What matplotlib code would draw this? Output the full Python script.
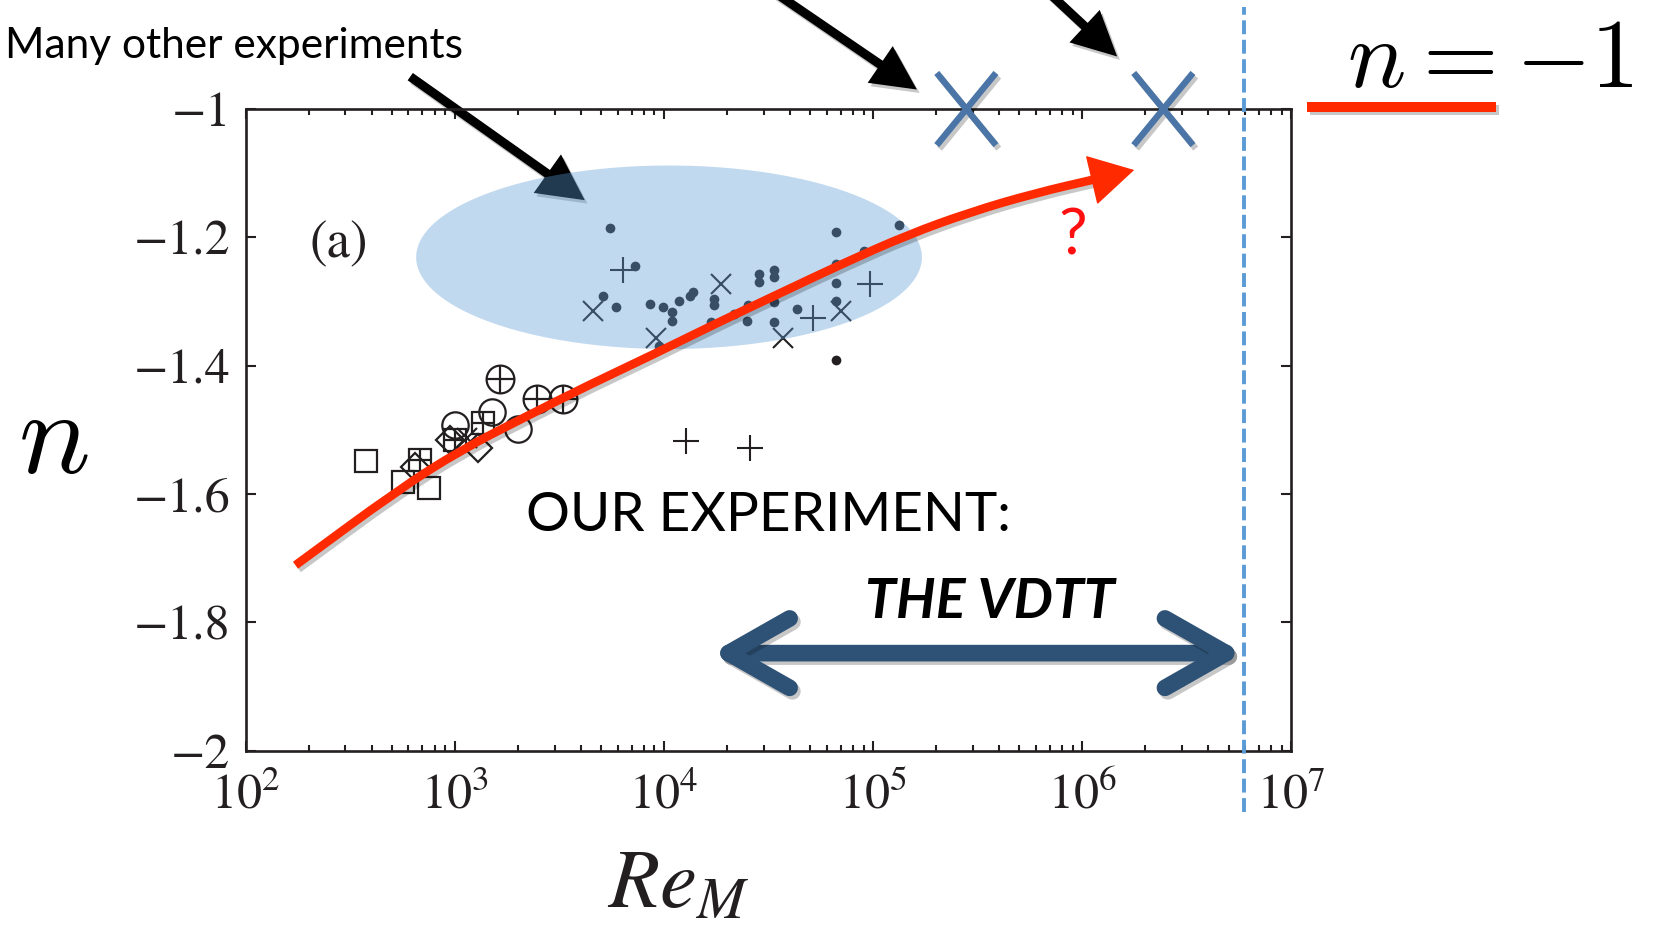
import numpy as np
import matplotlib
matplotlib.use("Agg")
import matplotlib.pyplot as plt
import matplotlib.patheffects as pe
from matplotlib.patches import FancyArrowPatch, PathPatch
from matplotlib.lines import Line2D
from matplotlib.path import Path
from matplotlib.ticker import NullFormatter

plt.rcParams['mathtext.fontset'] = 'stix'
plt.rcParams['lines.scale_dashes'] = False

# --- scaling exponent n versus magnetic Reynolds number Re_M ---
# small filled dots
dot_re = [5.5e3, 7.3e3, 5.1e3, 5.9e3, 8.6e3, 9.9e3, 1.09e4, 1.09e4, 1.18e4, 1.33e4,
          1.38e4, 1.73e4, 1.73e4, 1.68e4, 2.17e4, 2.53e4, 2.50e4, 2.86e4, 2.86e4,
          3.34e4, 3.34e4, 3.34e4, 3.34e4, 4.33e4, 6.67e4, 6.67e4, 6.67e4, 6.67e4,
          6.67e4, 9.06e4, 1.33e5, 9.5e3]
dot_n = [-1.186, -1.245, -1.292, -1.309, -1.304, -1.309, -1.317, -1.331, -1.299, -1.291,
         -1.285, -1.296, -1.306, -1.332, -1.320, -1.306, -1.331, -1.257, -1.270,
         -1.251, -1.262, -1.301, -1.332, -1.311, -1.191, -1.241, -1.271, -1.299,
         -1.391, -1.222, -1.181, -1.370]
# plus markers
plus_re = [6.4e3, 9.66e4, 5.18e4, 1.28e4, 2.59e4]
plus_n = [-1.251, -1.273, -1.325, -1.517, -1.528]
# cross markers
cross_re = [4.6e3, 1.88e4, 9.2e3, 3.72e4, 7.0e4, 1.14e3]
cross_n = [-1.315, -1.273, -1.357, -1.357, -1.315, -1.513]
# open squares
sq_re = [375, 564, 755]
sq_n = [-1.549, -1.581, -1.590]
# squares with a plus inside
sqp_re = [682, 1002, 1368]
sqp_n = [-1.547, -1.516, -1.490]
# open diamonds
dia_re = [646, 948, 1294]
dia_n = [-1.558, -1.516, -1.529]
# open circles
circ_re = [1002, 1500, 2014]
circ_n = [-1.493, -1.472, -1.498]
# circles with a plus inside
circp_re = [1644, 2460, 3281]
circp_n = [-1.421, -1.452, -1.452]

# trend curve (extrapolated towards n = -1)
trend_re = [173, 533, 1074, 2168, 4375, 8831, 1.778e4, 3.589e4, 7.244e4, 1.462e5,
            2.951e5, 5.957e5, 1.2e6, 1.77e6]
trend_n = [-1.711, -1.594, -1.531, -1.480, -1.430, -1.383, -1.334, -1.287, -1.240,
           -1.196, -1.160, -1.131, -1.108, -1.095]

# predicted n = -1 points
bigx_re = [2.79e5, 2.44e6]
bigx_n = [-1.0, -1.0]

# VDTT range and maximum Re_M
vdtt_lo, vdtt_hi, vdtt_n = 1.69e4, 5.86e6, -1.848
vdtt_max = 5.9e6

# highlighted region of other experiments (centre in log10 Re, n, half axes)
ell_logre, ell_n, ell_dlog, ell_dn = 4.024, -1.231, 1.209, 0.143

# pointer arrows (tail, head) in data coordinates
ptr_other = [(597, -0.947), (4285, -1.1445)]
ptr_x1 = [(2.55e4, -0.791), (1.66e5, -0.972)]
ptr_x2 = [(5.6e5, -0.791), (1.5e6, -0.921)]

INK = '#231f20'
RED = '#ff2a00'
XBLUE = '#4a75a6'
DARKBLUE = '#2e5276'
LIGHTBLUE = '#5b9bd5'

fig = plt.figure(figsize=(16.6, 9.36), dpi=100)
ax = fig.add_axes([0.148, 0.198, 0.630, 0.6855])
ax.set_xscale('log')
ax.set_xlim(1e2, 1e7)
ax.set_ylim(-2, -1)

shadow_line = [pe.SimpleLineShadow(offset=(2, -2.5), shadow_color='k', alpha=0.22), pe.Normal()]
shadow_patch = [pe.SimplePatchShadow(offset=(2, -2.5), shadow_rgbFace='k', alpha=0.22), pe.Normal()]

# data markers
mk = dict(ls='none', color=INK, zorder=2)
ax.plot(dot_re, dot_n, marker='o', ms=7, mew=0, **mk)
ax.plot(plus_re, plus_n, marker='+', ms=19, mew=1.5, **mk)
ax.plot(cross_re, cross_n, marker='x', ms=14, mew=1.5, **mk)
open_mk = dict(ls='none', mfc='none', mec=INK, mew=1.6, zorder=2)
ax.plot(sq_re, sq_n, marker='s', ms=16, **open_mk)
ax.plot(sqp_re, sqp_n, marker='s', ms=16, **open_mk)
ax.plot(sqp_re, sqp_n, marker='+', ms=16, **open_mk)
ax.plot(dia_re, dia_n, marker='D', ms=14, **open_mk)
ax.plot(circ_re, circ_n, marker='o', ms=19, **open_mk)
ax.plot(circp_re, circp_n, marker='o', ms=20, **open_mk)
ax.plot(circp_re, circp_n, marker='+', ms=20, **open_mk)

# arrow to the cloud of other experiments (sits under the translucent ellipse)
ax.add_patch(FancyArrowPatch(ptr_other[0], ptr_other[1],
                             arrowstyle='simple,head_length=33,head_width=34,tail_width=6.5',
                             mutation_scale=1, color='black', lw=0, clip_on=False, zorder=2.5,
                             path_effects=shadow_patch))

# translucent ellipse over the other experiments
t = np.linspace(0, 2 * np.pi, 300)
ax.fill(10 ** (ell_logre + ell_dlog * np.cos(t)), ell_n + ell_dn * np.sin(t),
        color=LIGHTBLUE, alpha=0.38, lw=0, zorder=3)

# trend curve: quadratic Bezier through the midpoints for a smooth stroke
pts = list(zip(trend_re[:-1], trend_n[:-1]))
verts = [pts[0]]
codes = [Path.MOVETO]
for k in range(1, len(pts) - 1):
    mid = ((pts[k - 1][0] * pts[k][0]) ** 0.5, (pts[k - 1][1] + pts[k][1]) / 2)
    nxt = ((pts[k][0] * pts[k + 1][0]) ** 0.5, (pts[k][1] + pts[k + 1][1]) / 2)
    if k == 1:
        verts.append(mid)
        codes.append(Path.LINETO)
    verts += [pts[k], nxt]
    codes += [Path.CURVE3, Path.CURVE3]
verts.append(pts[-1])
codes.append(Path.LINETO)
ax.add_patch(PathPatch(Path(verts, codes), fill=False, edgecolor=RED, lw=6.2, capstyle='butt',
                       zorder=4, path_effects=shadow_line))
ax.annotate('', xy=(trend_re[-1], trend_n[-1]), xytext=(trend_re[-2], trend_n[-2]),
            arrowprops=dict(arrowstyle='-|>,head_length=1.5,head_width=0.85', mutation_scale=20,
                            color=RED, lw=1, shrinkA=0, shrinkB=0), zorder=4)
ax.text(0.791, 0.774, '?', transform=ax.transAxes, color='#ff1010', family='Lato',
        size=46, ha='center', va='baseline', zorder=5)

# n = -1 predictions
xs = Path([(-0.41, -0.5), (0.41, 0.5), (-0.41, 0.5), (0.41, -0.5)],
          [Path.MOVETO, Path.LINETO, Path.MOVETO, Path.LINETO])
ax.plot(bigx_re, bigx_n, ls='none', marker=xs, ms=52, mew=4.6, mec=XBLUE, clip_on=False,
        zorder=6, path_effects=shadow_line)
for tail, head in (ptr_x1, ptr_x2):
    ax.add_patch(FancyArrowPatch(tail, head,
                                 arrowstyle='simple,head_length=32,head_width=32,tail_width=6.5',
                                 mutation_scale=1, color='black', lw=0, clip_on=False, zorder=6,
                                 path_effects=shadow_patch))

# maximum Re_M reached in the VDTT
ax.plot([vdtt_max, vdtt_max], [-0.095, 1.159], transform=ax.get_xaxis_transform(),
        color=LIGHTBLUE, lw=2.8, dashes=(10, 4), clip_on=False, zorder=5)

# VDTT range
ax.add_patch(FancyArrowPatch((vdtt_lo, vdtt_n), (vdtt_hi, vdtt_n),
                             arrowstyle='<->,head_length=44,head_width=25', mutation_scale=1,
                             color=DARKBLUE, lw=12, capstyle='round', joinstyle='round',
                             shrinkA=0, shrinkB=0, zorder=5, path_effects=shadow_line))

ax.text(0.268, 0.342, 'OUR EXPERIMENT:', transform=ax.transAxes, family='Lato',
        size=39.5, color='black', va='baseline')
ax.text(0.592, 0.2067, 'THE VDTT', transform=ax.transAxes, family='Lato', weight='bold',
        style='italic', size=40, color='black', va='baseline')
ax.text(0.0606, 0.788, '(a)', transform=ax.transAxes, family='STIXGeneral', size=38,
        color=INK, va='center')

# axes styling
for s in ax.spines.values():
    s.set_linewidth(1.9)
    s.set_color(INK)
ax.set_xticks([1e2, 1e3, 1e4, 1e5, 1e6, 1e7])
ax.set_xticklabels([r'$10^{%d}$' % k for k in range(2, 8)])
ax.xaxis.set_minor_formatter(NullFormatter())
ax.set_yticks([-2, -1.8, -1.6, -1.4, -1.2, -1])
ax.set_yticklabels(['\u22122', '\u22121.8', '\u22121.6', '\u22121.4', '\u22121.2', '\u22121'],
                   family='STIXGeneral')
ax.tick_params(which='both', direction='in', top=True, right=True, width=1.5, colors=INK,
               labelsize=36)
ax.tick_params(which='major', length=7)
ax.tick_params(which='minor', length=4)
ax.tick_params(axis='x', pad=14)
ax.tick_params(axis='y', pad=11)

ax.set_xlabel(r'$Re_M$', fontsize=60, color=INK)
ax.xaxis.label.set_va('baseline')
ax.xaxis.set_label_coords(0.413, -0.245)
ax.set_ylabel(r'$n$', fontsize=86, rotation=0, math_fontfamily='cm', color='black')
ax.yaxis.label.set_va('center')
ax.yaxis.label.set_ha('center')
ax.yaxis.set_label_coords(-0.184, 0.484)

# figure-level annotations
fig.text(463 / 1660, 1 - 58 / 936, 'Many other experiments', family='Lato', size=30.6,
         ha='right', va='baseline', color='black')
fig.text(1347 / 1660, 1 - 87 / 936, r'$n = -1$', math_fontfamily='cm', size=70,
         ha='left', va='baseline', color='black')
fig.add_artist(Line2D([1307 / 1660, 1496 / 1660], [1 - 107 / 936] * 2, transform=fig.transFigure,
                      color=RED, lw=7.2, solid_capstyle='butt', path_effects=shadow_line))

fig.savefig('out.png', dpi=100)
